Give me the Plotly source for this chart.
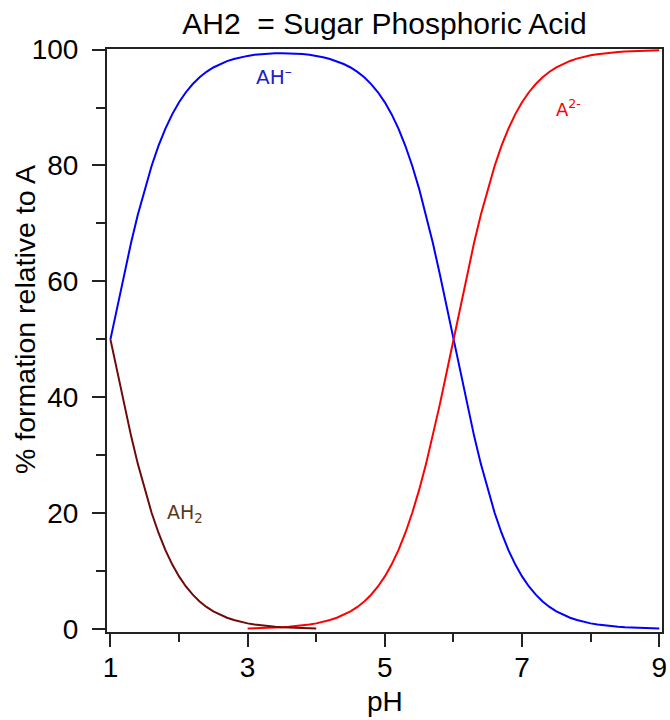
import plotly.graph_objects as go

# pH grid and species percentages
ph_all = [round(1.0 + 0.1 * i, 1) for i in range(81)]  # 1.0 .. 9.0

ah_minus = [50.00, 55.73, 61.31, 66.61, 71.53, 75.97, 79.92, 83.37, 86.32, 88.82,
            90.91, 92.64, 94.06, 95.23, 96.17, 96.91, 97.50, 98.00, 98.37, 98.67,
            98.91, 99.09, 99.22, 99.30, 99.36, 99.37, 99.36, 99.30, 99.22, 99.09,
            98.91, 98.68, 98.38, 98.00, 97.51, 96.91, 96.15, 95.21, 94.05, 92.63,
            90.90, 88.81, 86.32, 83.36, 79.92, 75.97, 71.52, 66.61, 61.31, 55.73,
            50.00, 44.27, 38.69, 33.39, 28.47, 24.03, 20.08, 16.63, 13.68, 11.18,
            9.09, 7.36, 5.94, 4.77, 3.83, 3.07, 2.45, 1.96, 1.56, 1.24,
            0.99, 0.79, 0.63, 0.50, 0.40, 0.32, 0.25, 0.20, 0.16, 0.13,
            0.10]

ph_ah2 = ph_all[:31]  # 1.0 .. 4.0
ah2 = [50.00, 44.27, 38.69, 33.39, 28.47, 24.03, 20.08, 16.63, 13.68, 11.18,
       9.09, 7.36, 5.94, 4.77, 3.83, 3.07, 2.45, 1.96, 1.56, 1.24,
       0.99, 0.79, 0.63, 0.50, 0.40, 0.31, 0.25, 0.20, 0.16, 0.12,
       0.10]

ph_a2 = ph_all[20:]  # 3.0 .. 9.0
a2_minus = [0.10, 0.12, 0.16, 0.20, 0.25, 0.31, 0.40, 0.50, 0.63, 0.79,
            0.99, 1.24, 1.56, 1.96, 2.45, 3.06, 3.83, 4.77, 5.93, 7.36,
            9.09, 11.18, 13.68, 16.63, 20.08, 24.02, 28.47, 33.39, 38.69, 44.27,
            50.00, 55.73, 61.31, 66.61, 71.53, 75.97, 79.92, 83.37, 86.32, 88.82,
            90.91, 92.64, 94.06, 95.23, 96.17, 96.93, 97.55, 98.04, 98.44, 98.76,
            99.01, 99.21, 99.37, 99.50, 99.60, 99.68, 99.75, 99.80, 99.84, 99.87,
            99.90]

x_ticks = [1, 3, 5, 7, 9]
x_minor = [2, 4, 6, 8]
y_ticks = [0, 20, 40, 60, 80, 100]
y_minor = [10, 30, 50, 70, 90]

BLUE = "#0000FF"
RED = "#FF0000"
BROWN = "#6E0A0A"
AXIS = "#222222"
LABEL_FONT = "Liberation Sans, Arial"

fig = go.Figure()
fig.add_trace(go.Scatter(x=ph_all, y=ah_minus, mode="lines",
                         line=dict(color=BLUE, width=2), name="AH-"))
fig.add_trace(go.Scatter(x=ph_a2, y=a2_minus, mode="lines",
                         line=dict(color=RED, width=2), name="A2-"))
fig.add_trace(go.Scatter(x=ph_ah2, y=ah2, mode="lines",
                         line=dict(color=BROWN, width=2), name="AH2"))

ann_font = "DejaVu Sans"
fig.add_annotation(x=3.38, y=95.5, text="AH<sup>–</sup>", showarrow=False,
                   font=dict(family=ann_font, size=20, color="#1E1EC8"))
fig.add_annotation(x=7.68, y=89.9, text="A<sup>2-</sup>", showarrow=False,
                   font=dict(family=ann_font, size=18, color=RED))
fig.add_annotation(x=2.08, y=20.0, text="AH<sub>2</sub>", showarrow=False,
                   font=dict(family=ann_font, size=19, color="#5A3A1E"))

# axis titles placed as text
fig.add_annotation(xref="paper", yref="y", x=-0.148, y=53.5, xanchor="center",
                   yanchor="middle", textangle=-90, showarrow=False,
                   text="% formation relative to A",
                   font=dict(family=LABEL_FONT, size=28.5, color="black"))
fig.add_annotation(xref="paper", yref="paper", x=0.501, y=-0.120, xanchor="center",
                   yanchor="middle", showarrow=False, text="pH",
                   font=dict(family=LABEL_FONT, size=28, color="black"))

fig.update_layout(
    width=670, height=720,
    margin=dict(l=107, r=8, t=49, b=88, autoexpand=False),
    paper_bgcolor="white", plot_bgcolor="white",
    showlegend=False,
    font=dict(family=LABEL_FONT, color="black"),
    title=dict(text="AH2  = Sugar Phosphoric Acid", x=0.5, xref="paper",
               xanchor="center", y=0.967, yref="container", yanchor="middle",
               font=dict(size=30, color="black")),
)
fig.update_xaxes(
    range=[0.95, 9.04], tickvals=x_ticks, ticktext=[str(v) for v in x_ticks],
    ticks="outside", ticklen=13, tickwidth=2, tickcolor=AXIS,
    minor=dict(tickvals=x_minor, ticks="outside", ticklen=8, tickwidth=2, tickcolor=AXIS),
    showline=True, linecolor=AXIS, linewidth=2, mirror=True,
    showgrid=False, zeroline=False, automargin=False,
    tickfont=dict(size=28), ticklabelstandoff=-4,
)
fig.update_yaxes(
    range=[-0.5, 100.1], tickvals=y_ticks, ticktext=[str(v) for v in y_ticks],
    ticks="outside", ticklen=13, tickwidth=2, tickcolor=AXIS,
    minor=dict(tickvals=y_minor, ticks="outside", ticklen=9, tickwidth=2, tickcolor=AXIS),
    showline=True, linecolor=AXIS, linewidth=2, mirror=True,
    showgrid=False, zeroline=False, automargin=False,
    tickfont=dict(size=28), ticklabelstandoff=8,
)

fig.write_html("out.html",
               config={"displayModeBar": False},
               post_script="document.body.style.margin='0';document.body.style.overflow='hidden';")
